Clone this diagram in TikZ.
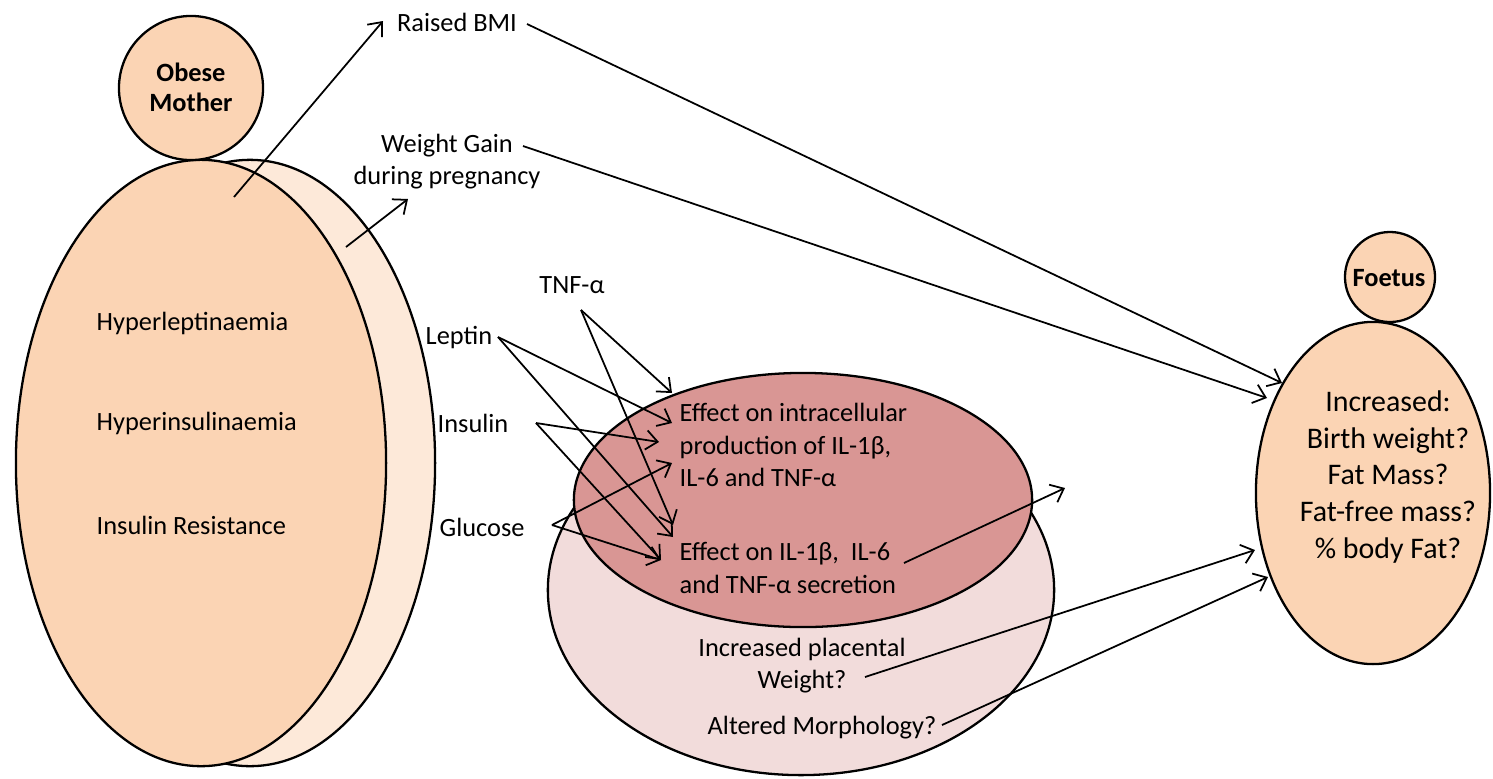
\documentclass[tikz,border=0pt]{standalone}
\usepackage{fontspec}
\setmainfont{Carlito}
\usetikzlibrary{arrows.meta,shapes.geometric}
\definecolor{peach}{HTML}{FBD4B4}
\definecolor{peachlight}{HTML}{FDE9D9}
\definecolor{rosedark}{HTML}{D99694}
\definecolor{roselight}{HTML}{F2DCDB}
\begin{document}
\begin{tikzpicture}[x=0.01cm,y=-0.01cm,
  shp/.style={draw=black, line width=0.65pt, inner sep=0pt, outer sep=0pt},
  ell/.style={shp, ellipse},
  circ/.style={shp, circle},
  conn/.style={line width=0.5pt, -{Straight Barb[length=3.3pt,width=5.5pt]}},
  txt/.style={font=\fontsize{7.5}{9.1}\selectfont, inner sep=0pt, align=center},
  txtl/.style={font=\fontsize{7.5}{9.2}\selectfont, inner sep=0pt, align=left, anchor=west},
  btxt/.style={font=\bfseries\fontsize{7.5}{8.5}\selectfont, inner sep=0pt, align=center},
  ftxt/.style={font=\fontsize{8.5}{10.5}\selectfont, inner sep=0pt, align=center}]
\useasboundingbox (0,0) rectangle (1493,778);

% mother
\node[ell, fill=peachlight, minimum width=3.70cm, minimum height=6.06cm] (mback) at (250,463) {};
\node[ell, fill=peach, minimum width=3.70cm, minimum height=6.06cm] (mbody) at (201,463) {};
\node[circ, fill=peach, minimum size=1.44cm] (mhead) at (191,88) {};
\node[btxt] (mheadt) at (191,87) {Obese\\Mother};

% placenta
\node[ell, fill=roselight, minimum width=5.06cm, minimum height=3.70cm] (plout) at (801,590) {};
\node[ell, fill=rosedark, minimum width=4.58cm, minimum height=2.54cm] (plin) at (803,500) {};

% foetus
\node[ell, fill=peach, minimum width=2.34cm, minimum height=3.42cm] (fbody) at (1373,493) {};
\node[circ, fill=peach, minimum size=0.90cm] (fhead) at (1390,277) {};
\node[btxt] (fheadt) at (1389,278) {Foetus};

% texts
\node[txtl] (hl) at (96,323) {Hyperleptinaemia};
\node[txtl] (hi) at (96,423) {Hyperinsulinaemia};
\node[txtl] (ir) at (96,525) {Insulin Resistance};
\node[txt] (bmi) at (457,22) {Raised BMI};
\node[txt] (wg) at (447,162) {Weight Gain\\during pregnancy};
\node[txt] (tnf) at (572,285) {TNF-α};
\node[txtl] (lep) at (425,337) {Leptin};
\node[txtl] (ins) at (437,423) {Insulin};
\node[txtl] (glu) at (439,527) {Glucose};
\node[txtl] (eff1) at (679,445) {Effect on intracellular\\production of IL-1β,\\IL-6 and TNF-α};
\node[txtl] (eff2) at (679,568) {Effect on IL-1β,\ \ IL-6\\and TNF-α secretion};
\node[txt] (ipw) at (802,666) {Increased placental\\Weight?};
\node[txt] (am) at (822,728) {Altered Morphology?};
\node[ftxt] (ft) at (1388,477) {Increased:\\Birth weight?\\Fat Mass?\\Fat-free mass?\\\% body Fat?};

% connector end points
\coordinate (bmiS) at (234,197);
\coordinate (bmiT) at (383,21);
\coordinate (wgS) at (346,247);
\coordinate (wgT) at (408,199);
\coordinate (bmiL) at (527,24);
\coordinate (wgL) at (523,146);
\coordinate (fA) at (1282,383);
\coordinate (fB) at (1267,398);
\coordinate (fC) at (1255,550);
\coordinate (fD) at (1268,577);
\coordinate (tnfS) at (581,310);
\coordinate (lepS) at (498,337);
\coordinate (insS) at (536,423);
\coordinate (gluS) at (552,525);
\coordinate (e1a) at (672,393);
\coordinate (e1b) at (672,423);
\coordinate (e1c) at (659,442);
\coordinate (e1d) at (672,463);
\coordinate (e2a) at (673,525);
\coordinate (e2b) at (673,537);
\coordinate (e2c) at (661,560);
\coordinate (secS) at (904,563);
\coordinate (secT) at (1065,488);
\coordinate (ipwS) at (865,677);
\coordinate (amS) at (942,725);

% connectors
\draw[conn] (bmiS) -- (bmiT);
\draw[conn] (wgS) -- (wgT);
\draw[conn] (bmiL) -- (fA);
\draw[conn] (wgL) -- (fB);
\draw[conn] (tnfS) -- (e1a);
\draw[conn] (tnfS) -- (e2a);
\draw[conn] (lepS) -- (e1b);
\draw[conn] (lepS) -- (e2b);
\draw[conn] (insS) -- (e1c);
\draw[conn] (insS) -- (e2c);
\draw[conn] (gluS) -- (e1d);
\draw[conn] (gluS) -- (e2c);
\draw[conn] (secS) -- (secT);
\draw[conn] (ipwS) -- (fC);
\draw[conn] (amS) -- (fD);
\end{tikzpicture}
\end{document}
